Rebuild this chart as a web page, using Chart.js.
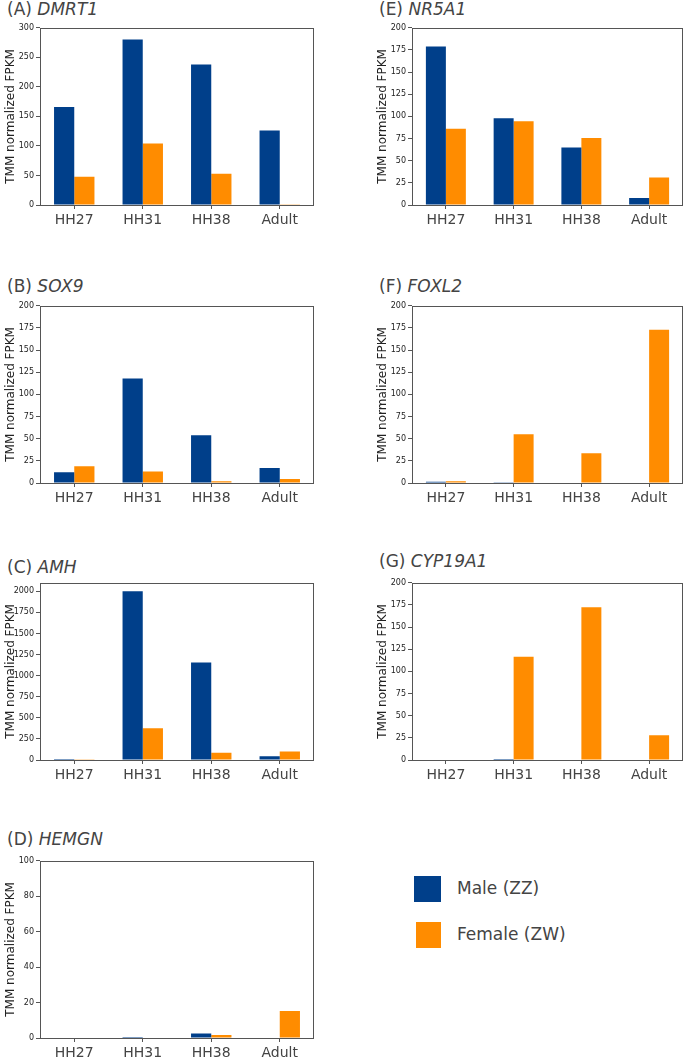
<!DOCTYPE html>
<html>
<head>
<meta charset="utf-8">
<script src="https://cdn.jsdelivr.net/npm/chart.js@4.4.1/dist/chart.umd.min.js"></script>
<style>
  html, body { margin: 0; padding: 0; background: #fff; overflow: hidden; }
  body { position: relative; width: 685px; height: 1061px; font-family: "DejaVu Sans", sans-serif; }
  .ttl { position: absolute; font-size: 17px; line-height: 20px; color: #444; white-space: nowrap; }
  .ttl i { font-style: italic; }
  canvas { position: absolute; }
  .leg { position: absolute; left: 414px; font-size: 17px; color: #444; }
  .leg span { display: inline-block; width: 27px; height: 26px; vertical-align: middle; margin-right: 16px; }
</style>
</head>
<body>
<div class="ttl" style="left:7px;top:-1px">(A) <i>DMRT1</i></div>
<div class="ttl" style="left:7px;top:276px">(B) <i>SOX9</i></div>
<div class="ttl" style="left:7px;top:557px">(C) <i>AMH</i></div>
<div class="ttl" style="left:7px;top:829px">(D) <i>HEMGN</i></div>
<div class="ttl" style="left:379px;top:-1px">(E) <i>NR5A1</i></div>
<div class="ttl" style="left:379px;top:276px">(F) <i>FOXL2</i></div>
<div class="ttl" style="left:379px;top:551px">(G) <i>CYP19A1</i></div>

<canvas id="cA" width="315" height="209" style="left:0;top:21px"></canvas>
<canvas id="cB" width="315" height="209" style="left:0;top:299px"></canvas>
<canvas id="cC" width="315" height="209" style="left:0;top:576px"></canvas>
<canvas id="cD" width="315" height="209" style="left:0;top:854px"></canvas>
<canvas id="cE" width="312" height="209" style="left:372px;top:21px"></canvas>
<canvas id="cF" width="312" height="209" style="left:372px;top:299px"></canvas>
<canvas id="cG" width="312" height="209" style="left:372px;top:576px"></canvas>

<div class="leg" style="top:876px"><span style="background:#003f8a"></span>Male (ZZ)</div>
<div class="leg" style="top:922px"><span style="background:#ff8c00;width:25px;margin-left:2px;margin-right:16px"></span>Female (ZW)</div>

<script>
const categories = ['HH27', 'HH31', 'HH38', 'Adult'];

const dmrt1Male = [166, 280, 238, 126];
const dmrt1Female = [48, 104, 53, 0.5];
const sox9Male = [12, 118, 54, 17];
const sox9Female = [19, 13, 1.9, 4.5];
const amhMale = [12, 2000, 1155, 43];
const amhFemale = [8, 375, 87, 102];
const hemgnMale = [0.3, 0.5, 2.6, 0];
const hemgnFemale = [0, 0, 1.7, 15.2];
const nr5a1Male = [179, 98, 65, 8];
const nr5a1Female = [86, 94.5, 75.5, 31];
const foxl2Male = [1.5, 0.8, 0, 0.7];
const foxl2Female = [2, 55, 33.5, 173];
const cyp19a1Male = [0, 1.2, 0, 0];
const cyp19a1Female = [0, 116.5, 172.5, 28];

// y range and tick step per panel
const yMaxes = { A: 300, B: 200, C: 2100, D: 100, E: 200, F: 200, G: 200 };
const ySteps = { A: 50, B: 25, C: 250, D: 20, E: 25, F: 25, G: 25 };

const male = '#003f8a';
const female = '#ff8c00';
const axisColor = '#555';

// matplotlib-like box around the plot
const frame = {
    id: 'frame',
    afterDraw(chart) {
        const a = chart.chartArea;
        const ctx = chart.ctx;
        ctx.save();
        ctx.strokeStyle = axisColor;
        ctx.lineWidth = 1;
        ctx.strokeRect(Math.round(a.left) + 0.5, Math.round(a.top) + 0.5,
            Math.round(a.right - a.left) - 1, Math.round(a.bottom - a.top));
        ctx.restore();
    }
};

function panel(id, key, m, f) {
    const step = ySteps[key];
    new Chart(document.getElementById(id), {
        type: 'bar',
        data: {
            labels: categories,
            datasets: [
                { label: 'Male (ZZ)', data: m, backgroundColor: male, categoryPercentage: 0.59, barPercentage: 1 },
                { label: 'Female (ZW)', data: f, backgroundColor: female, categoryPercentage: 0.59, barPercentage: 1 }
            ]
        },
        options: {
            responsive: false,
            animation: false,
            devicePixelRatio: 1,
            layout: { padding: { top: 6, right: 1, left: 0, bottom: 0 } },
            plugins: { legend: { display: false }, tooltip: { enabled: false } },
            scales: {
                x: {
                    grid: { offset: false, drawOnChartArea: false, color: axisColor, tickLength: 4 },
                    border: { display: false },
                    ticks: { color: '#444', padding: 3, font: { family: 'DejaVu Sans', size: 14 } },
                    afterFit(s) { s.height = 25; }
                },
                y: {
                    min: 0,
                    max: yMaxes[key],
                    grid: { drawOnChartArea: false, color: axisColor, tickLength: 4 },
                    border: { display: false },
                    ticks: {
                        stepSize: step,
                        includeBounds: false,
                        autoSkip: false,
                        color: '#222',
                        padding: 2,
                        font: { family: 'DejaVu Sans', size: 8 },
                        callback: v => String(v)
                    },
                    afterBuildTicks(s) { s.ticks = s.ticks.filter(t => t.value % step === 0); },
                    title: {
                        display: true,
                        text: 'TMM normalized FPKM',
                        color: '#222',
                        padding: { top: 4, bottom: 0 },
                        font: { family: 'DejaVu Sans', size: 12 }
                    },
                    afterFit(s) { s.width = 40; }
                }
            }
        },
        plugins: [frame]
    });
}

panel('cA', 'A', dmrt1Male, dmrt1Female);
panel('cB', 'B', sox9Male, sox9Female);
panel('cC', 'C', amhMale, amhFemale);
panel('cD', 'D', hemgnMale, hemgnFemale);
panel('cE', 'E', nr5a1Male, nr5a1Female);
panel('cF', 'F', foxl2Male, foxl2Female);
panel('cG', 'G', cyp19a1Male, cyp19a1Female);
</script>
</body>
</html>
